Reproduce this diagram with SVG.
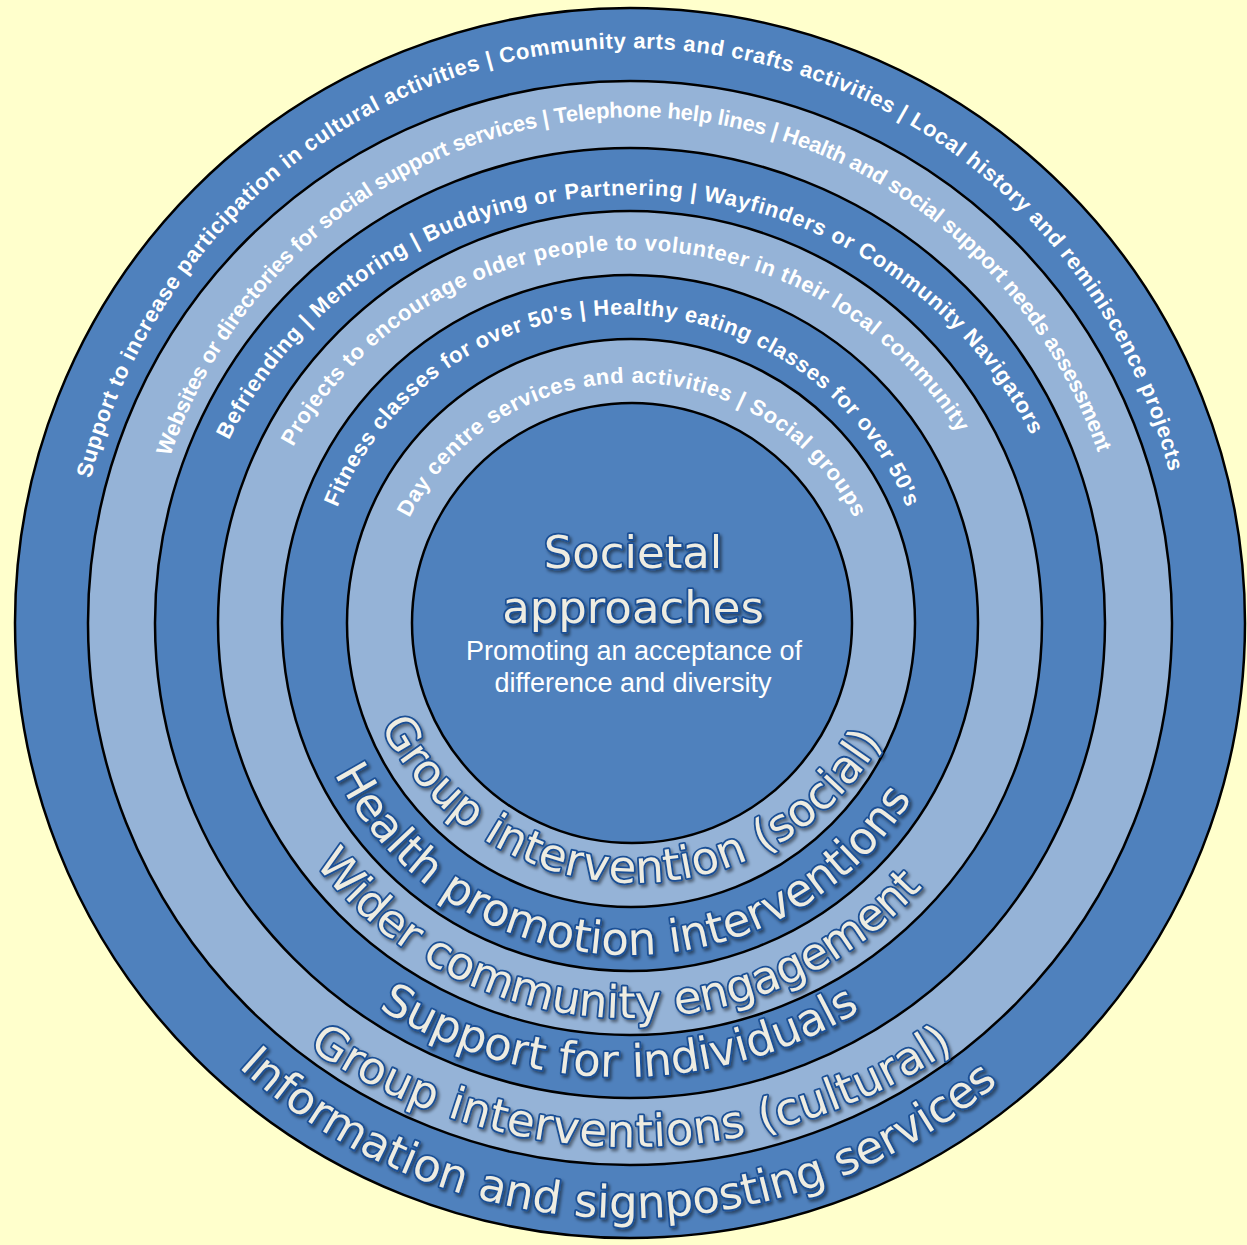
<svg xmlns="http://www.w3.org/2000/svg" width="1247" height="1245" viewBox="0 0 1247 1245">
<style>
.dark{fill:#4F81BD;stroke:#000;stroke-width:2.5}
.light{fill:#95B3D7;stroke:#000;stroke-width:2.5}
.top{font-family:"Liberation Sans",Arial,sans-serif;font-weight:bold;font-size:22px;fill:#fff;text-anchor:middle}
.big{font-family:"DejaVu Sans",Verdana,sans-serif;font-size:45px;fill:#EEECE1;stroke:#1A4F95;stroke-width:3.6;paint-order:stroke fill;stroke-linejoin:round;filter:url(#sh);text-anchor:middle}
.title{font-family:"DejaVu Sans",Verdana,sans-serif;font-size:45px;fill:#EEECE1;stroke:#1A4F95;stroke-width:3.6;paint-order:stroke fill;stroke-linejoin:round;filter:url(#sh);text-anchor:middle}
.sub{font-family:"Liberation Sans",Arial,sans-serif;font-size:27px;fill:#fff;text-anchor:middle}
</style>
<defs>
<filter id="sh" x="-10%" y="-20%" width="120%" height="150%">
<feDropShadow dx="2" dy="2.5" stdDeviation="1.5" flood-color="#000" flood-opacity="0.45"/>
</filter>
<path id="pT1" d="M 90 482 A 557 570 0 0 1 1170 475"/>
<path id="pT2" d="M 170 457 A 492 506 0 0 1 1098 453"/>
<path id="pT3" d="M 229 440 A 445 428 0 0 1 1031 435"/>
<path id="pT4" d="M 293 447 A 382 374 0 0 1 958 433"/>
<path id="pT5" d="M 337 508 A 307 308 0 0 1 907 508"/>
<path id="pT6" d="M 409.5 518 A 247 240 0 0 1 854 518"/>
<path id="pB1" d="M 238.5 1067 A 576.4 576.4 0 0 0 998.5 1083"/>
<path id="pB2" d="M 308.8 1048.1 A 576 576 0 0 0 953.8 1048.4"/>
<path id="pB3" d="M 378.6 1008.1 A 461.8 461.8 0 0 0 860.2 1010.4"/>
<path id="pB4" d="M 315.5 863.9 A 394.9 394.9 0 0 0 922.4 887.1"/>
<path id="pB5" d="M 334.3 773.4 A 331.6 331.6 0 0 0 912.1 797.8"/>
<path id="pB6" d="M 380.5 726 A 285.1 285.1 0 0 0 882 740.6"/>
</defs>
<rect width="1247" height="1245" fill="#FFFFCC"/>
<g id="rings">
<circle class="dark" cx="630" cy="623" r="615"/>
<circle class="light" cx="630" cy="623" r="542"/>
<circle class="dark" cx="630" cy="623" r="475"/>
<circle class="light" cx="630" cy="623" r="412"/>
<circle class="dark" cx="630" cy="623" r="348"/>
<circle class="light" cx="631" cy="623" r="284"/>
<circle class="dark" cx="632" cy="623" r="220"/>
</g>
<g id="ring-labels-top">
<text class="top"><textPath href="#pT1" startOffset="50%" textLength="1481" lengthAdjust="spacing">Support to increase participation in cultural activities | Community arts and crafts activities | Local history and reminiscence projects</textPath></text>
<text class="top"><textPath href="#pT2" startOffset="50%" textLength="1224" lengthAdjust="spacing">Websites or directories for social support services | Telephone help lines | Health and social support needs assessment</textPath></text>
<text class="top"><textPath href="#pT3" startOffset="50%" textLength="987" lengthAdjust="spacing">Befriending | Mentoring | Buddying or Partnering | Wayfinders or Community Navigators</textPath></text>
<text class="top"><textPath href="#pT4" startOffset="50%" textLength="802" lengthAdjust="spacing">Projects to encourage older people to volunteer in their local community</textPath></text>
<text class="top"><textPath href="#pT5" startOffset="50%" textLength="730" lengthAdjust="spacing">Fitness classes for over 50's | Healthy eating classes for over 50's</textPath></text>
<text class="top"><textPath href="#pT6" startOffset="50%" textLength="548" lengthAdjust="spacing">Day centre services and activities | Social groups</textPath></text>
</g>
<g id="ring-labels-bottom">
<text class="big"><textPath href="#pB1" startOffset="50%" textLength="830" lengthAdjust="spacing">Information and signposting services</textPath></text>
<text class="big"><textPath href="#pB2" startOffset="50%" textLength="685" lengthAdjust="spacing">Group interventions (cultural)</textPath></text>
<text class="big"><textPath href="#pB3" startOffset="50%" textLength="507" lengthAdjust="spacing">Support for individuals</textPath></text>
<text class="big"><textPath href="#pB4" startOffset="50%" textLength="693" lengthAdjust="spacing">Wider community engagement</textPath></text>
<text class="big"><textPath href="#pB5" startOffset="50%" textLength="702" lengthAdjust="spacing">Health promotion interventions</textPath></text>
<text class="big"><textPath href="#pB6" startOffset="50%" textLength="613" lengthAdjust="spacing">Group intervention (social)</textPath></text>
</g>
<g id="centre">
<text class="title" x="633" y="568">Societal</text>
<text class="title" x="633" y="623">approaches</text>
<text class="sub" x="634" y="660">Promoting an acceptance of</text>
<text class="sub" x="633" y="692">difference and diversity</text>
</g>
</svg>
